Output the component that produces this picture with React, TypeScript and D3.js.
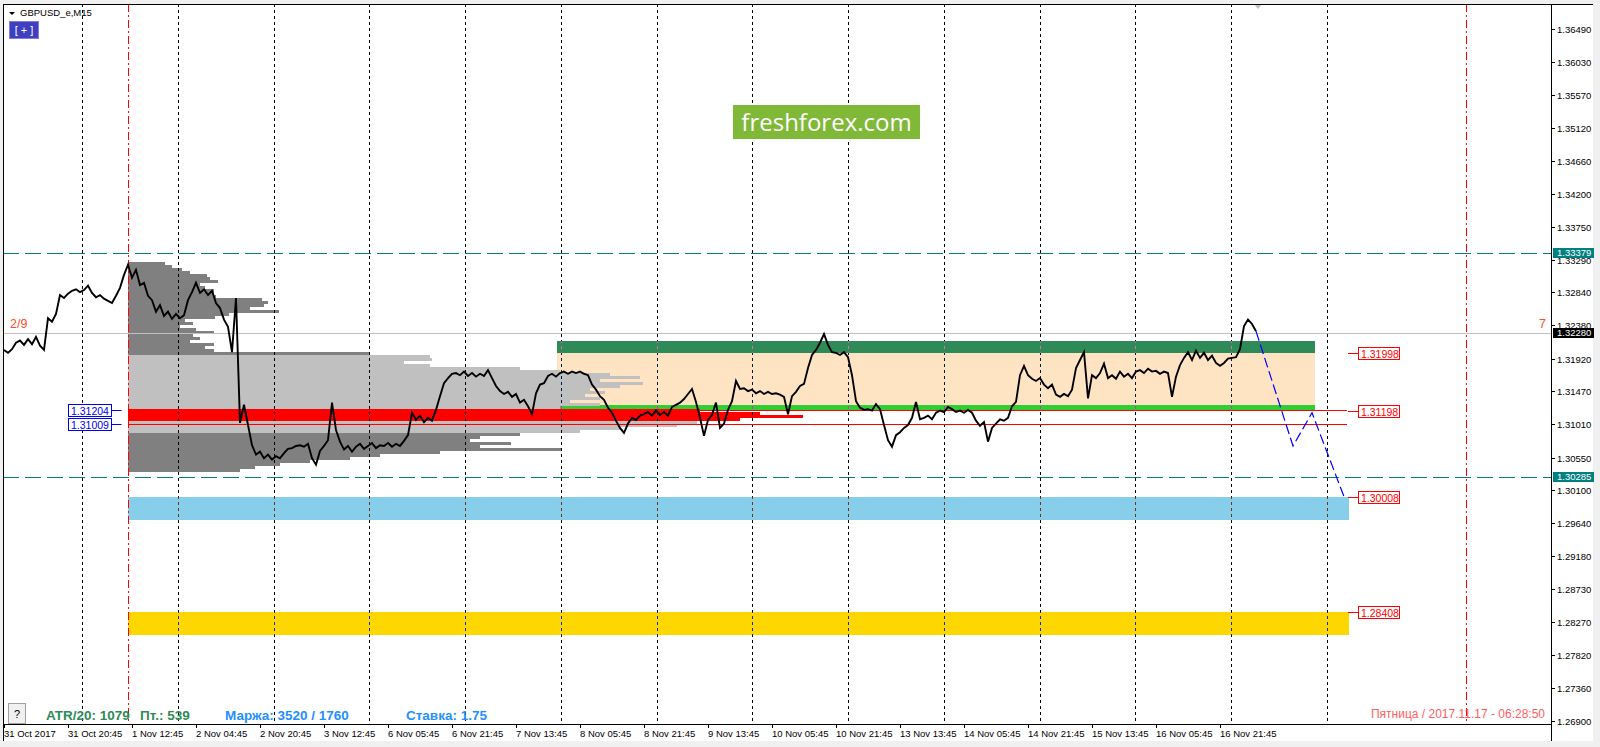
import { useEffect, useRef } from "react";
import * as d3 from "d3";

const W = 1600;
const H = 747;

const hourlyCloses = [
  1.3204, 1.32, 1.3205, 1.3214, 1.3217, 1.3211, 1.3219, 1.3212, 1.3222, 1.321,
  1.3204, 1.3248, 1.3243, 1.3254, 1.328, 1.3276, 1.3282, 1.3286, 1.3288, 1.3284,
  1.3287, 1.3293, 1.3283, 1.3277, 1.328, 1.3275, 1.3272, 1.3269, 1.3279, 1.329,
  1.3308, 1.3322, 1.3304, 1.3315, 1.3294, 1.3297, 1.3279, 1.3273, 1.3257, 1.3266,
  1.3251, 1.3257, 1.3247, 1.3254, 1.3248, 1.3252, 1.3273, 1.3284, 1.3297, 1.3283,
  1.3288, 1.328, 1.3286, 1.3269, 1.3262, 1.3246, 1.3236, 1.3201, 1.3276, 1.3103,
  1.3128, 1.31, 1.3072, 1.3059, 1.3063, 1.3054, 1.3059, 1.3052, 1.3057, 1.3054,
  1.3061, 1.3067, 1.3068, 1.3071, 1.3072, 1.307, 1.3074, 1.3054, 1.3045, 1.3064,
  1.3071, 1.3079, 1.3131, 1.3093, 1.3077, 1.3066, 1.3071, 1.3063, 1.307, 1.3074,
  1.3067, 1.3071, 1.3075, 1.3068, 1.3072, 1.3071, 1.3075, 1.307, 1.3074, 1.3071,
  1.3078, 1.3086, 1.3117, 1.3107, 1.3113, 1.3104, 1.311, 1.3106, 1.3121, 1.314,
  1.3158, 1.3165, 1.3171, 1.3172, 1.3169, 1.3174, 1.3168, 1.3172, 1.3167, 1.3171,
  1.3168, 1.3176, 1.3165, 1.3154, 1.3147, 1.3143, 1.3146, 1.3139, 1.3143, 1.3131,
  1.3135, 1.3126, 1.3115, 1.3144, 1.3156, 1.3158, 1.3168, 1.3171, 1.3167, 1.3172,
  1.3174, 1.3171, 1.3174, 1.3172, 1.3174, 1.3171, 1.3169, 1.3156, 1.3149, 1.314,
  1.3135, 1.3124, 1.3117, 1.3106, 1.3096, 1.3089, 1.3102, 1.311, 1.3107, 1.3113,
  1.3115, 1.3118, 1.3113, 1.312, 1.3114, 1.3118, 1.3113, 1.3125, 1.3128, 1.3131,
  1.3136, 1.3143, 1.315, 1.3132, 1.311, 1.3085, 1.3107, 1.3114, 1.3131, 1.3096,
  1.3102, 1.3121, 1.3133, 1.3161, 1.315, 1.3151, 1.3147, 1.3149, 1.3144, 1.3147,
  1.3143, 1.3146, 1.3143, 1.3144, 1.3142, 1.3139, 1.3115, 1.314, 1.3146, 1.3154,
  1.3157, 1.3179, 1.3197, 1.3204, 1.3214, 1.3226, 1.3211, 1.3201, 1.32, 1.3197,
  1.3201, 1.3194, 1.3169, 1.3133, 1.3124, 1.3121, 1.3122, 1.312, 1.3129, 1.3122,
  1.31, 1.3079, 1.307, 1.3086, 1.309, 1.3096, 1.31, 1.311, 1.3132, 1.3108,
  1.311, 1.3113, 1.3108, 1.3117, 1.312, 1.3118, 1.3125, 1.3122, 1.3118, 1.312,
  1.3117, 1.3121, 1.3117, 1.3106, 1.3099, 1.3104, 1.3077, 1.3096, 1.3102, 1.3108,
  1.3106, 1.311, 1.3126, 1.3132, 1.3169, 1.3182, 1.3169, 1.3164, 1.3161, 1.3165,
  1.3156, 1.3151, 1.3156, 1.3142, 1.3139, 1.3143, 1.314, 1.3149, 1.3179, 1.319,
  1.3201, 1.3137, 1.3169, 1.3165, 1.3172, 1.3185, 1.3165, 1.3169, 1.3164, 1.3174,
  1.3167, 1.3171, 1.3165, 1.3174, 1.3176, 1.3172, 1.3178, 1.3174, 1.3175, 1.3171,
  1.3174, 1.3172, 1.3139, 1.3167, 1.3183, 1.3193, 1.3201, 1.319, 1.3203, 1.3193,
  1.32, 1.319, 1.3196, 1.3186, 1.3182, 1.3186, 1.3192, 1.3193, 1.3194, 1.3205,
  1.3237, 1.3246, 1.324, 1.323,
];
const BARS_PER_CLOSE = 4;

const timeLabels = [
  "31 Oct 2017", "31 Oct 20:45", "1 Nov 12:45", "2 Nov 04:45", "2 Nov 20:45",
  "3 Nov 12:45", "6 Nov 05:45", "6 Nov 21:45", "7 Nov 13:45", "8 Nov 05:45",
  "8 Nov 21:45", "9 Nov 13:45", "10 Nov 05:45", "10 Nov 21:45", "13 Nov 13:45",
  "14 Nov 05:45", "14 Nov 21:45", "15 Nov 13:45", "16 Nov 05:45", "16 Nov 21:45",
];
const LABEL_STEP_BARS = 64;

const priceTicks = [
  1.3649, 1.3603, 1.3557, 1.3512, 1.3466, 1.342, 1.3375, 1.3329, 1.3284, 1.3238,
  1.3192, 1.3147, 1.3101, 1.3055, 1.301, 1.2964, 1.2918, 1.2873, 1.2827, 1.2782,
  1.2736, 1.269,
];

// market profile: one row per price step, length in bars
const profileVolumes = [
  37, 44, 54, 62, 79, 82, 90, 72, 77, 86,
  86, 88, 134, 140, 136, 122, 151, 101, 87, 57,
  65, 52, 68, 86, 65, 72, 62, 86, 77, 86,
  242, 302, 304, 276, 302, 392, 432, 482, 512, 472,
  515, 492, 462, 477, 457, 472, 442, 472, 432, 572,
  632, 675, 612, 569, 549, 492, 452, 392, 352, 342,
  383, 352, 434, 312, 252, 222, 182, 152, 127, 112,
];
const PROFILE_TOP = 1.3326;
const PROFILE_STEP = 0.000415;
const PROFILE_START_BAR = 124;
const valueArea = [1.3088, 1.3196];
const pocRange = [1.3106, 1.3122];

const zones = [
  { key: "sell", fromBar: 553, toBar: 1311, hi: 1.3216, lo: 1.31998 },
  { key: "range", fromBar: 553, toBar: 1311, hi: 1.31998, lo: 1.31275 },
  { key: "buy", fromBar: 553, toBar: 1311, hi: 1.31275, lo: 1.31198 },
  { key: "target1", fromBar: 124, toBar: 1345, hi: 1.30008, lo: 1.2968 },
  { key: "target2", fromBar: 124, toBar: 1345, hi: 1.28408, lo: 1.2809 },
];
const zoneColors: Record<string, string> = {
  sell: "#2e8b57",
  range: "#ffe4c4",
  buy: "#32cd32",
  target1: "#87ceeb",
  target2: "#ffd700",
};

const dashedLevels = [1.33379, 1.30285];
const bidLevel = 1.3228;
const pocLevels = [1.31204, 1.31009];
const POC_LINE_BARS = [124, 1343];
const targetLevels = [1.31998, 1.31198, 1.30008, 1.28408];
const TARGET_LABEL_BAR = 1344;
const separatorBars = [124, 1462];
const GRID_START_BAR = 78.3;
const GRID_STEP_BARS = 95.72;
const GRID_COUNT = 14;
const LAST_BAR = 1254;

const projection = [
  { bar: 1252, price: 1.323 },
  { bar: 1289, price: 1.3071 },
  { bar: 1308, price: 1.3117 },
  { bar: 1340, price: 1.30008 },
];

const FONT = "'Liberation Sans', Arial, sans-serif";

export default function App() {
  const svgRef = useRef<SVGSVGElement>(null);

  useEffect(() => {
    if (!svgRef.current) return;
    const svg = d3.select(svgRef.current);
    svg.selectAll("*").remove();

    const plot = { left: 3, top: 4, right: 1551, bottom: 724 };
    const x = d3.scaleLinear().domain([0, 1547]).range([4, 1551]);
    const y = d3.scaleLinear().domain([1.269, 1.3649]).range([721, 28.7]);
    const fmt = d3.format(".5f");

    // window background
    svg.append("rect").attr("width", W).attr("height", H).attr("fill", "#f0f0f0");
    svg.append("rect").attr("x", 3).attr("y", 4).attr("width", 1590).attr("height", 737).attr("fill", "#fff");

    svg.append("defs").append("clipPath").attr("id", "plot")
      .append("rect")
      .attr("x", plot.left).attr("y", plot.top)
      .attr("width", plot.right - plot.left).attr("height", plot.bottom - plot.top);

    const g = svg.append("g").attr("clip-path", "url(#plot)");

    // zones
    g.append("g").selectAll("rect").data(zones).join("rect")
      .attr("x", (d) => x(d.fromBar))
      .attr("width", (d) => x(d.toBar) - x(d.fromBar))
      .attr("y", (d) => y(d.hi))
      .attr("height", (d) => y(d.lo) - y(d.hi))
      .attr("fill", (d) => zoneColors[d.key])
      .attr("shape-rendering", "crispEdges");

    // market profile
    const rows = profileVolumes.map((v, i) => {
      const top = PROFILE_TOP - i * PROFILE_STEP;
      return { v, top, bottom: top - PROFILE_STEP, mid: top - PROFILE_STEP / 2 };
    });
    g.append("g").selectAll("rect").data(rows).join("rect")
      .attr("x", x(PROFILE_START_BAR))
      .attr("width", (d) => x(PROFILE_START_BAR + d.v) - x(PROFILE_START_BAR))
      .attr("y", (d) => y(d.top))
      .attr("height", (d) => y(d.bottom) - y(d.top))
      .attr("fill", (d) =>
        d.mid >= pocRange[0] && d.mid <= pocRange[1]
          ? "#ff0000"
          : d.mid >= valueArea[0] && d.mid <= valueArea[1]
          ? "#c0c0c0"
          : "#808080"
      )
      .attr("shape-rendering", "crispEdges");

    // grid
    const gridBars = d3.range(GRID_COUNT).map((k) => GRID_START_BAR + k * GRID_STEP_BARS);
    g.append("g").selectAll("line").data(gridBars).join("line")
      .attr("x1", (d) => Math.round(x(d)) + 0.5)
      .attr("x2", (d) => Math.round(x(d)) + 0.5)
      .attr("y1", plot.top)
      .attr("y2", plot.bottom)
      .attr("stroke", "#000")
      .attr("stroke-dasharray", "3,3");

    // grid shows inverted over the zones
    zones.forEach((z) => {
      const c = d3.rgb(zoneColors[z.key]);
      const inv = d3.rgb(255 - c.r, 255 - c.g, 255 - c.b).formatHex();
      const top = y(z.hi);
      g.append("g").selectAll("line")
        .data(gridBars.filter((b) => b >= z.fromBar && b <= z.toBar))
        .join("line")
        .attr("x1", (d) => Math.round(x(d)) + 0.5)
        .attr("x2", (d) => Math.round(x(d)) + 0.5)
        .attr("y1", top)
        .attr("y2", y(z.lo))
        .attr("stroke", inv)
        .attr("stroke-dasharray", "3,3")
        .attr("stroke-dashoffset", top - plot.top);
    });

    // period separators
    g.append("g").selectAll("line").data(separatorBars).join("line")
      .attr("x1", (d) => Math.round(x(d)) + 0.5)
      .attr("x2", (d) => Math.round(x(d)) + 0.5)
      .attr("y1", plot.top)
      .attr("y2", plot.bottom)
      .attr("stroke", "#ff0000")
      .attr("stroke-dasharray", "8,3,2,3");

    // horizontal levels
    g.append("line")
      .attr("x1", plot.left).attr("x2", plot.right)
      .attr("y1", Math.round(y(bidLevel)) + 0.5).attr("y2", Math.round(y(bidLevel)) + 0.5)
      .attr("stroke", "#c0c0c0");
    g.append("g").selectAll("line").data(dashedLevels).join("line")
      .attr("x1", plot.left).attr("x2", plot.right)
      .attr("y1", (d) => Math.round(y(d)) + 0.5).attr("y2", (d) => Math.round(y(d)) + 0.5)
      .attr("stroke", "#008080")
      .attr("stroke-dasharray", "16,6");
    g.append("g").selectAll("line").data(pocLevels).join("line")
      .attr("x1", x(POC_LINE_BARS[0])).attr("x2", x(POC_LINE_BARS[1]))
      .attr("y1", (d) => Math.round(y(d)) + 0.5).attr("y2", (d) => Math.round(y(d)) + 0.5)
      .attr("stroke", "#ff0000");

    // price line
    const line = d3.line<number>()
      .x((_, i) => x(i * BARS_PER_CLOSE))
      .y((d) => y(d));
    g.append("path")
      .datum(hourlyCloses)
      .attr("fill", "none")
      .attr("stroke", "#000")
      .attr("stroke-width", 1.9)
      .attr("stroke-linejoin", "miter")
      .attr("d", line);

    // projected path
    const proj = d3.line<{ bar: number; price: number }>()
      .x((d) => x(d.bar))
      .y((d) => y(d.price));
    g.append("path")
      .datum(projection)
      .attr("fill", "none")
      .attr("stroke", "#0000ff")
      .attr("stroke-width", 1.2)
      .attr("stroke-dasharray", "10,4")
      .attr("d", proj);

    // target labels on the right
    const tl = g.append("g").selectAll("g").data(targetLevels).join("g")
      .attr("transform", (d) => `translate(${x(TARGET_LABEL_BAR)},${Math.round(y(d)) + 0.5})`);
    tl.append("line").attr("x1", 0).attr("x2", 10).attr("stroke", "#ff0000");
    tl.append("rect").attr("x", 10.5).attr("y", -6).attr("width", 41).attr("height", 12)
      .attr("fill", "#fff").attr("stroke", "#ff0000");
    tl.append("text").attr("x", 13).attr("y", 4).attr("font-family", FONT).attr("font-size", 10.5)
      .attr("fill", "#ff0000").text((d) => fmt(d));

    // POC labels on the left
    const pl = g.append("g").selectAll("g").data(pocLevels).join("g")
      .attr("transform", (d) => `translate(68.5,${Math.round(y(d)) + 0.5})`);
    pl.append("line").attr("x1", 43).attr("x2", 53).attr("stroke", "#0000ff");
    pl.append("rect").attr("x", 0).attr("y", -6).attr("width", 43).attr("height", 12)
      .attr("fill", "#fff").attr("stroke", "#0000ff");
    pl.append("text").attr("x", 2.5).attr("y", 4).attr("font-family", FONT).attr("font-size", 10.5)
      .attr("fill", "#0000ff").text((d) => fmt(d));

    // chart shift marker
    const sx = x(LAST_BAR);
    g.append("path")
      .attr("d", `M${sx - 4},${plot.top}L${sx + 4},${plot.top}L${sx},${plot.top + 5}Z`)
      .attr("fill", "#c0c0c0");

    // freshforex badge
    svg.append("rect").attr("x", 733).attr("y", 105).attr("width", 187).attr("height", 34).attr("fill", "#80b838");
    svg.append("text").attr("x", 826.5).attr("y", 131).attr("text-anchor", "middle")
      .attr("font-family", "'Open Sans', sans-serif").attr("font-size", 24).attr("fill", "#fff")
      .text("freshforex.com");

    // frame
    const frame = svg.append("g").attr("stroke", "#000").attr("shape-rendering", "crispEdges");
    frame.append("line").attr("x1", 3).attr("x2", 1593).attr("y1", 4.5).attr("y2", 4.5);
    frame.append("line").attr("x1", 3.5).attr("x2", 3.5).attr("y1", 4).attr("y2", 741);
    frame.append("line").attr("x1", plot.right + 0.5).attr("x2", plot.right + 0.5).attr("y1", 4).attr("y2", 741);
    frame.append("line").attr("x1", 3).attr("x2", plot.right).attr("y1", plot.bottom + 0.5).attr("y2", plot.bottom + 0.5);

    // price axis
    const ya = svg.append("g").selectAll("g").data(priceTicks).join("g")
      .attr("transform", (d) => `translate(${plot.right},${Math.round(y(d)) + 0.5})`);
    ya.append("line").attr("x1", 0).attr("x2", 4).attr("stroke", "#000");
    ya.append("text").attr("x", 6).attr("dy", "0.35em").attr("font-family", FONT).attr("font-size", 9.5)
      .attr("fill", "#000").text((d) => fmt(d));

    const boxes = [
      { price: dashedLevels[0], fill: "#008080" },
      { price: bidLevel, fill: "#000000" },
      { price: dashedLevels[1], fill: "#008080" },
    ];
    const bx = svg.append("g").selectAll("g").data(boxes).join("g")
      .attr("transform", (d) => `translate(${plot.right + 2},${Math.round(y(d.price))})`);
    bx.append("rect").attr("x", 0).attr("y", -5).attr("width", 41).attr("height", 10).attr("fill", (d) => d.fill);
    bx.append("text").attr("x", 4).attr("dy", "0.35em").attr("font-family", FONT).attr("font-size", 9.5)
      .attr("fill", "#fff").text((d) => fmt(d.price));

    // time axis
    const xa = svg.append("g").selectAll("g").data(timeLabels).join("g")
      .attr("transform", (_, i) => `translate(${Math.round(x(i * LABEL_STEP_BARS)) + 0.5},${plot.bottom})`);
    xa.append("line").attr("y1", 0).attr("y2", 4).attr("stroke", "#000");
    xa.append("text").attr("x", -0.5).attr("y", 13).attr("font-family", FONT).attr("font-size", 9.5)
      .attr("fill", "#000").text((d) => d);

    // header
    svg.append("path").attr("d", "M9,12L15,12L12,15Z").attr("fill", "#000");
    svg.append("text").attr("x", 20).attr("y", 16).attr("font-family", FONT).attr("font-size", 9.5)
      .attr("fill", "#000").text("GBPUSD_e,M15");
    svg.append("rect").attr("x", 9.5).attr("y", 21.5).attr("width", 29).attr("height", 17)
      .attr("fill", "#3f3fbf").attr("stroke", "#7f7fdf");
    svg.append("text").attr("x", 24).attr("y", 34).attr("text-anchor", "middle").attr("font-family", FONT)
      .attr("font-size", 11).attr("fill", "#fff").attr("xml:space", "preserve").text("[ + ]");

    // level counters
    svg.append("text").attr("x", 10).attr("y", 328).attr("font-family", FONT).attr("font-size", 12.5)
      .attr("fill", "#ff4d2e").text("2/9");
    svg.append("text").attr("x", 1546).attr("y", 328).attr("text-anchor", "end").attr("font-family", FONT)
      .attr("font-size", 12.5).attr("fill", "#ff4d2e").text("7");

    // status line
    svg.append("rect").attr("x", 8.5).attr("y", 703.5).attr("width", 17).attr("height", 20)
      .attr("fill", "#f0f0f0").attr("stroke", "#a0a0a0");
    svg.append("text").attr("x", 17).attr("y", 718).attr("text-anchor", "middle").attr("font-family", FONT)
      .attr("font-size", 11).attr("fill", "#000").text("?");
    const status = [
      { x: 46, text: "ATR/20: 1079", color: "#2e8b57" },
      { x: 140, text: "Пт.: 539", color: "#2e8b57" },
      { x: 225, text: "Маржа: 3520 / 1760", color: "#1e90ff" },
      { x: 406, text: "Ставка: 1.75", color: "#1e90ff" },
    ];
    svg.append("g").selectAll("text").data(status).join("text")
      .attr("x", (d) => d.x).attr("y", 720)
      .attr("font-family", FONT).attr("font-size", 13.5).attr("font-weight", "bold")
      .attr("fill", (d) => d.color).text((d) => d.text);

    svg.append("text").attr("x", 1545).attr("y", 718).attr("text-anchor", "end").attr("font-family", FONT)
      .attr("font-size", 12).attr("fill", "#ff5f5f").text("Пятница / 2017.11.17 - 06:28:50");
  }, []);

  return (
    <svg
      ref={svgRef}
      width={W}
      height={H}
      style={{ position: "absolute", left: 0, top: 0, display: "block" }}
    />
  );
}
